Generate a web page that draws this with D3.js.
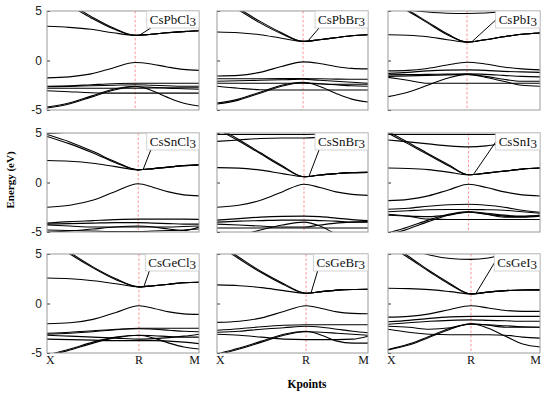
<!DOCTYPE html>
<html>
<head>
<meta charset="utf-8">
<script src="https://cdn.jsdelivr.net/npm/d3@7"></script>
<style>
  body { margin: 0; background: #fff; }
  svg { display: block; }
</style>
</head>
<body>
<div id="chart"></div>
<script>
// compounds, row by row
const compounds = ["CsPbCl3", "CsPbBr3", "CsPbI3", "CsSnCl3", "CsSnBr3", "CsSnI3", "CsGeCl3", "CsGeBr3", "CsGeI3"];

// k samples: 0 = X, 1 = R, 2 = M
const kSamples = [0, 0.25, 0.5, 0.75, 1, 1.25, 1.5, 1.75, 2];
const kLabels = ["X", "R", "M"];
const yTicks = [5, 0, -5];

// position of R along the path, read per panel
const rFrac = [0.58, 0.57, 0.52, 0.60, 0.576, 0.53, 0.605, 0.59, 0.546];

// energies (eV) of each band at kSamples; index 2 of each list is the lowest conduction band
const bandsCsPbCl3 = [
  [6.8, 5.6, 4.3, 3.2, 2.54, 2.65, 2.8, 2.92, 3.0],
  [6.95, 5.75, 4.45, 3.3, 2.54, 2.65, 2.8, 2.92, 3.0],
  [3.46, 3.35, 3.15, 2.8, 2.54, 2.65, 2.8, 2.92, 3.0],
  [-1.76, -1.65, -1.35, -0.75, -0.2, -0.35, -0.65, -0.9, -1.0],
  [-2.6, -2.55, -2.45, -2.35, -2.3, -2.3, -2.3, -2.3, -2.3],
  [-2.65, -2.62, -2.55, -2.5, -2.45, -2.5, -2.55, -2.6, -2.6],
  [-2.8, -2.8, -2.8, -2.8, -2.8, -2.78, -2.75, -2.75, -2.75],
  [-3.05, -3.15, -3.25, -3.3, -3.3, -3.3, -3.3, -3.3, -3.3],
  [-4.7, -4.3, -3.6, -2.9, -2.6, -3.0, -3.7, -4.3, -4.6],
  [-4.8, -4.4, -3.7, -3.0, -2.65, -2.7, -2.8, -2.85, -2.9]
];
const bandsCsPbBr3 = [
  [6.2, 5.1, 3.8, 2.7, 1.93, 2.1, 2.3, 2.5, 2.6],
  [6.35, 5.25, 3.95, 2.8, 1.93, 2.1, 2.3, 2.5, 2.6],
  [2.88, 2.8, 2.6, 2.25, 1.93, 2.1, 2.3, 2.5, 2.6],
  [-1.56, -1.5, -1.2, -0.6, -0.14, -0.3, -0.6, -0.8, -0.85],
  [-1.85, -1.85, -1.85, -1.83, -1.82, -1.85, -1.88, -1.9, -1.9],
  [-2.1, -2.05, -2.0, -1.95, -1.9, -2.0, -2.1, -2.2, -2.3],
  [-2.3, -2.3, -2.3, -2.3, -2.3, -2.35, -2.4, -2.4, -2.4],
  [-2.6, -2.8, -2.95, -2.98, -2.98, -2.98, -2.98, -2.98, -2.98],
  [-4.3, -3.9, -3.2, -2.5, -2.2, -2.6, -3.3, -3.9, -4.2],
  [-4.4, -4.0, -3.3, -2.6, -2.25, -2.35, -2.45, -2.55, -2.6]
];
const bandsCsPbI3 = [
  [6.0, 5.0, 3.8, 2.6, 1.86, 2.1, 2.4, 2.65, 2.78],
  [6.1, 5.1, 3.9, 2.7, 1.86, 2.1, 2.4, 2.65, 2.78],
  [2.6, 2.55, 2.4, 2.1, 1.86, 2.1, 2.4, 2.65, 2.78],
  [5.3, 5.1, 4.9, 4.78, 4.75, 4.8, 4.95, 5.15, 5.4],
  [-1.05, -1.0, -0.8, -0.45, -0.17, -0.35, -0.65, -0.85, -0.95],
  [-1.3, -1.2, -1.05, -0.97, -0.95, -1.0, -1.1, -1.15, -1.2],
  [-1.45, -1.42, -1.4, -1.38, -1.35, -1.4, -1.5, -1.6, -1.65],
  [-1.6, -1.55, -1.5, -1.45, -1.4, -1.7, -2.1, -2.5, -2.6],
  [-1.7, -2.0, -2.3, -2.3, -2.3, -2.3, -2.3, -2.3, -2.3],
  [-3.65, -3.2, -2.5, -1.8, -1.4, -1.6, -1.9, -2.1, -2.1]
];
const bandsCsSnCl3 = [
  [4.65, 3.9, 3.0, 2.0, 1.28, 1.4, 1.55, 1.7, 1.78],
  [4.85, 4.1, 3.15, 2.1, 1.28, 1.4, 1.55, 1.7, 1.78],
  [2.22, 2.15, 1.95, 1.6, 1.28, 1.4, 1.55, 1.7, 1.78],
  [4.95, 5.1, 5.4, 5.6, 5.7, 5.7, 5.6, 5.5, 5.4],
  [-2.5, -2.3, -1.8, -0.9, -0.13, -0.5, -0.95, -1.25, -1.35],
  [-4.1, -3.95, -3.85, -3.75, -3.7, -3.7, -3.7, -3.7, -3.72],
  [-4.2, -4.15, -4.1, -4.05, -4.05, -4.1, -4.15, -4.2, -4.2],
  [-4.3, -4.4, -4.5, -4.5, -4.5, -4.5, -4.5, -4.45, -4.4],
  [-5.0, -4.9, -4.7, -4.5, -4.4, -4.5, -4.7, -4.85, -4.5],
  [-4.8, -4.85, -4.9, -4.95, -4.95, -4.9, -4.85, -4.8, -4.7]
];
const bandsCsSnBr3 = [
  [5.4, 4.2, 2.9, 1.6, 0.58, 0.75, 0.9, 1.0, 1.02],
  [5.55, 4.35, 3.0, 1.7, 0.58, 0.75, 0.9, 1.0, 1.02],
  [1.5, 1.45, 1.25, 0.9, 0.58, 0.75, 0.9, 1.0, 1.02],
  [4.85, 4.85, 4.85, 4.85, 4.85, 4.9, 5.0, 5.2, 5.4],
  [4.15, 4.3, 4.45, 4.5, 4.5, 4.55, 4.6, 4.7, 4.8],
  [-2.5, -2.3, -1.8, -0.95, -0.17, -0.5, -0.95, -1.2, -1.3],
  [-3.8, -3.65, -3.5, -3.42, -3.4, -3.45, -3.6, -3.75, -3.85],
  [-4.0, -3.9, -3.85, -3.8, -3.8, -3.85, -3.9, -4.0, -4.0],
  [-4.6, -4.6, -4.6, -4.6, -4.6, -4.6, -4.6, -4.6, -4.6],
  [-6.0, -5.4, -4.8, -4.3, -4.0, -4.4, -5.2, -5.8, -6.0],
  [-4.2, -4.3, -4.4, -4.5, -4.5, -4.3, -4.1, -4.0, -3.95]
];
const bandsCsSnI3 = [
  [5.0, 3.9, 2.8, 1.7, 0.78, 0.95, 1.15, 1.35, 1.46],
  [5.15, 4.05, 2.9, 1.8, 0.78, 0.95, 1.15, 1.35, 1.46],
  [1.46, 1.42, 1.3, 1.05, 0.78, 0.95, 1.15, 1.35, 1.46],
  [4.85, 4.85, 4.85, 4.85, 4.85, 4.85, 4.9, 5.0, 5.1],
  [4.3, 4.1, 3.9, 3.7, 3.6, 3.7, 3.95, 4.2, 4.4],
  [-1.83, -1.7, -1.35, -0.75, -0.17, -0.5, -0.95, -1.25, -1.36],
  [-2.7, -2.6, -2.4, -2.25, -2.2, -2.3, -2.5, -2.8, -3.0],
  [-2.95, -2.85, -2.75, -2.72, -2.72, -2.75, -2.8, -2.95, -3.1],
  [-3.3, -3.4, -3.45, -3.3, -3.0, -3.2, -3.4, -3.45, -3.3],
  [-3.2, -3.4, -3.7, -3.73, -3.73, -3.73, -3.73, -3.73, -3.73],
  [-5.3, -4.7, -3.95, -3.3, -2.95, -3.2, -3.5, -3.5, -3.4],
  [-5.1, -4.5, -3.8, -3.2, -2.95, -3.1, -3.3, -3.4, -3.35]
];
const bandsCsGeCl3 = [
  [6.6, 5.0, 3.6, 2.4, 1.68, 1.8, 1.95, 2.1, 2.15],
  [6.75, 5.15, 3.7, 2.5, 1.68, 1.8, 1.95, 2.1, 2.15],
  [2.58, 2.5, 2.3, 2.0, 1.68, 1.8, 1.95, 2.1, 2.15],
  [-2.05, -1.95, -1.6, -0.9, -0.23, -0.5, -0.85, -1.05, -1.1],
  [-3.0, -2.9, -2.75, -2.6, -2.5, -2.5, -2.5, -2.5, -2.5],
  [-3.1, -3.0, -2.85, -2.65, -2.55, -2.6, -2.7, -2.8, -2.85],
  [-3.2, -3.3, -3.4, -3.5, -3.6, -3.55, -3.45, -3.3, -3.1],
  [-3.6, -3.65, -3.7, -3.75, -3.75, -3.75, -3.8, -3.9, -4.05],
  [-5.3, -4.7, -4.0, -3.45, -3.2, -3.5, -4.0, -4.4, -4.6],
  [-5.2, -4.6, -3.9, -3.4, -3.2, -3.25, -3.35, -3.4, -3.4]
];
const bandsCsGeBr3 = [
  [6.0, 4.5, 3.1, 1.9, 1.04, 1.2, 1.35, 1.42, 1.44],
  [6.15, 4.65, 3.2, 2.0, 1.04, 1.2, 1.35, 1.42, 1.44],
  [1.88, 1.8, 1.6, 1.3, 1.04, 1.2, 1.35, 1.42, 1.44],
  [-1.91, -1.8, -1.45, -0.8, -0.23, -0.5, -0.85, -1.0, -1.04],
  [-2.7, -2.55, -2.35, -2.2, -2.15, -2.15, -2.15, -2.15, -2.15],
  [-2.9, -2.8, -2.6, -2.45, -2.3, -2.4, -2.6, -2.8, -2.95],
  [-3.1, -3.2, -3.4, -3.6, -3.65, -3.65, -3.65, -3.6, -3.3],
  [-5.1, -4.5, -3.8, -3.1, -2.8, -3.2, -3.8, -4.0, -4.0],
  [-5.2, -4.6, -3.9, -3.2, -2.85, -2.9, -3.0, -3.1, -3.2]
];
const bandsCsGeI3 = [
  [5.9, 4.6, 3.2, 1.9, 0.97, 1.15, 1.3, 1.37, 1.38],
  [6.05, 4.75, 3.3, 2.0, 0.97, 1.15, 1.3, 1.37, 1.38],
  [1.54, 1.5, 1.4, 1.2, 0.97, 1.15, 1.3, 1.37, 1.38],
  [6.5, 5.6, 4.9, 4.55, 4.46, 4.6, 5.0, 5.6, 6.2],
  [-1.38, -1.3, -1.05, -0.6, -0.23, -0.45, -0.7, -0.8, -0.8],
  [-1.85, -1.7, -1.5, -1.35, -1.3, -1.3, -1.3, -1.3, -1.3],
  [-2.1, -1.95, -1.8, -1.7, -1.65, -1.7, -1.75, -1.8, -1.8],
  [-2.3, -2.4, -2.6, -2.45, -2.05, -2.2, -2.4, -2.4, -2.4],
  [-2.6, -2.9, -3.1, -3.15, -3.15, -3.15, -3.2, -3.4, -3.5],
  [-4.7, -4.2, -3.4, -2.6, -2.05, -2.5, -3.3, -4.1, -4.4],
  [-4.65, -4.1, -3.3, -2.5, -2.1, -2.15, -2.25, -2.35, -2.4]
];

const allBands = [bandsCsPbCl3, bandsCsPbBr3, bandsCsPbI3, bandsCsSnCl3, bandsCsSnBr3, bandsCsSnI3, bandsCsGeCl3, bandsCsGeBr3, bandsCsGeI3];

const svgWidth = 550;
const svgHeight = 397;
const colX = [[47, 199], [217, 368], [388, 540]];
const rowY = [[11, 110], [133, 232], [254, 353]];

const svg = d3.select("#chart")
  .append("svg")
  .attr("width", svgWidth)
  .attr("height", svgHeight);

const defs = svg.append("defs");

function renderPanel(i) {
  const col = i % 3;
  const row = Math.floor(i / 3);
  const [x0, x1] = colX[col];
  const [y0, y1] = rowY[row];
  const xR = x0 + (x1 - x0) * rFrac[i];

  const xScale = d3.scaleLinear().domain([0, 1, 2]).range([x0, xR, x1]);
  const yScale = d3.scaleLinear().domain([-5, 5]).range([y1, y0]);

  const g = svg.append("g");

  defs.append("clipPath")
    .attr("id", `clip${i}`)
    .append("rect")
    .attr("x", x0).attr("y", y0)
    .attr("width", x1 - x0).attr("height", y1 - y0);

  // R marker
  g.append("line")
    .attr("x1", xScale(1)).attr("x2", xScale(1))
    .attr("y1", y0).attr("y2", y1)
    .attr("stroke", "#ff7a7a")
    .attr("stroke-width", 0.8)
    .attr("stroke-dasharray", "2.5,2");

  const line = d3.line()
    .x((d, j) => xScale(kSamples[j]))
    .y(d => yScale(d))
    .curve(d3.curveMonotoneX);

  g.append("g")
    .attr("clip-path", `url(#clip${i})`)
    .selectAll("path")
    .data(allBands[i])
    .enter()
    .append("path")
    .attr("d", line)
    .attr("fill", "none")
    .attr("stroke", "#000")
    .attr("stroke-width", 1.1);

  // y axis ticks
  const yAxis = d3.axisLeft(yScale)
    .tickValues(yTicks)
    .tickSize(-3)
    .tickPadding(5)
    .tickFormat(col === 0 ? d => (d < 0 ? "-" + Math.abs(d) : d) : "");
  const yAxisGroup = g.append("g")
    .attr("transform", `translate(${x0},0)`)
    .call(yAxis);
  yAxisGroup.select(".domain").remove();
  yAxisGroup.selectAll("line").attr("stroke", "#333");
  yAxisGroup.selectAll("text")
    .attr("fill", "#222")
    .attr("font-family", "Liberation Sans, Arial, sans-serif")
    .attr("font-size", "12px");

  // frame
  g.append("rect")
    .attr("x", x0).attr("y", y0)
    .attr("width", x1 - x0).attr("height", y1 - y0)
    .attr("fill", "none")
    .attr("stroke", "#9a9a9a")
    .attr("stroke-width", 1);

  // label box with callout
  const name = compounds[i];
  const callout = g.append("line");
  const box = g.append("rect");
  const label = g.append("text")
    .attr("x", x1 - 3)
    .attr("y", y0 + 13)
    .attr("text-anchor", "end")
    .attr("font-family", "Liberation Serif, Times New Roman, serif")
    .attr("font-size", "13px")
    .attr("fill", "#111");
  label.append("tspan").text(name.slice(0, -1));
  label.append("tspan").attr("dy", 2).text(name.slice(-1));
  const bb = label.node().getBBox();
  const boxX = bb.x - 3;
  const boxB = y0 + 17;

  const cbm = allBands[i][2][4];
  callout
    .attr("x1", boxX + (col === 2 ? 0 : 4))
    .attr("y1", col === 2 ? y0 + 9 : boxB)
    .attr("x2", xScale(1) + 5)
    .attr("y2", yScale(cbm) - 0.5)
    .attr("stroke", "#000")
    .attr("stroke-width", 1);

  box
    .attr("x", boxX).attr("y", y0)
    .attr("width", x1 - boxX).attr("height", boxB - y0)
    .attr("fill", "#fff")
    .attr("stroke", "#c8c8c8")
    .attr("stroke-width", 0.8);

  // k-point labels on the bottom row
  if (row === 2) {
    kLabels.forEach((k, j) => {
      g.append("text")
        .attr("x", xScale(j) + (j === 0 ? -1 : j === 2 ? 1 : 0))
        .attr("y", y1 + 11)
        .attr("text-anchor", j === 0 ? "start" : j === 2 ? "end" : "middle")
        .attr("font-family", "Liberation Serif, Times New Roman, serif")
        .attr("font-size", "12px")
        .attr("fill", "#111")
        .text(k);
    });
  }
}

for (let i = 0; i < compounds.length; i++) {
  renderPanel(i);
}

svg.append("text")
  .attr("x", 307)
  .attr("y", 388)
  .attr("text-anchor", "middle")
  .attr("font-family", "Liberation Serif, Times New Roman, serif")
  .attr("font-weight", "bold")
  .attr("font-size", "11.5px")
  .text("Kpoints");

svg.append("text")
  .attr("transform", "translate(14,180) rotate(-90)")
  .attr("text-anchor", "middle")
  .attr("font-family", "Liberation Serif, Times New Roman, serif")
  .attr("font-weight", "bold")
  .attr("font-size", "11px")
  .text("Energy (eV)");
</script>
</body>
</html>
